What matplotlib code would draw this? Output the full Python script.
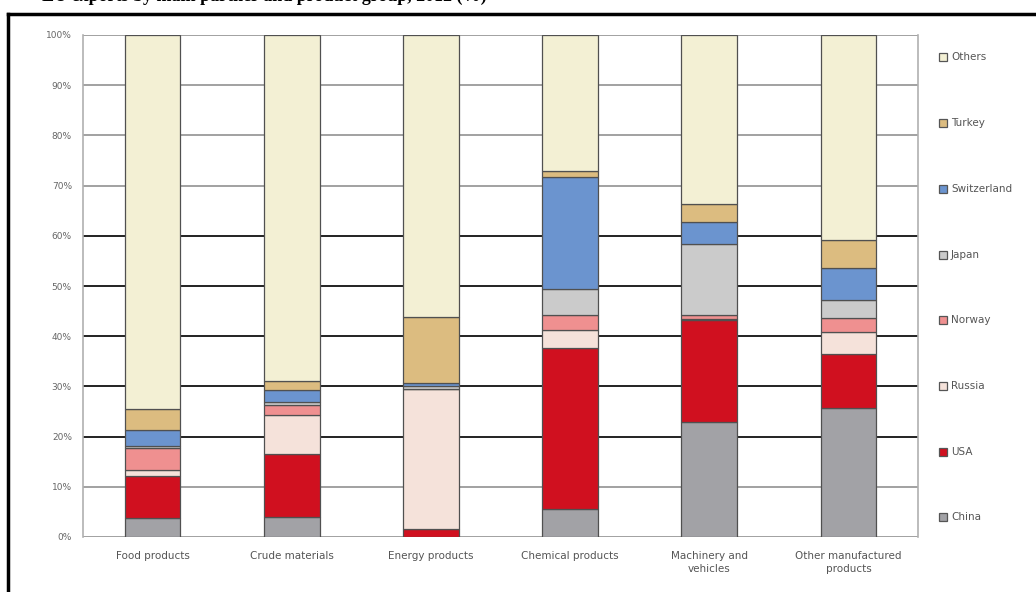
import matplotlib
matplotlib.use("Agg")
import matplotlib.pyplot as plt
from matplotlib.patches import Rectangle
from matplotlib.lines import Line2D
import numpy as np

categories = ["Food products", "Crude materials", "Energy products",
              "Chemical products", "Machinery and\nvehicles",
              "Other manufactured\nproducts"]

partners = ["China", "USA", "Russia", "Norway", "Japan",
            "Switzerland", "Turkey", "Others"]

china       = [3.8, 4.0, 0.0, 5.5, 22.9, 25.6]
usa         = [8.4, 12.5, 1.5, 32.1, 20.3, 10.9]
russia      = [1.1, 7.8, 27.9, 3.6, 0.3, 4.3]
norway      = [4.4, 2.0, 0.0, 3.0, 0.7, 2.8]
japan       = [0.5, 0.5, 0.7, 5.3, 14.1, 3.7]
switzerland = [3.1, 2.5, 0.6, 22.2, 4.5, 6.2]
turkey      = [4.2, 1.7, 13.1, 1.2, 3.6, 5.7]
others      = [74.5, 69.0, 56.2, 27.1, 33.6, 40.8]

series = [china, usa, russia, norway, japan, switzerland, turkey, others]
colors = ["#a2a2a6", "#d0101f", "#f5e2da", "#ef9090", "#cbcbcb",
          "#6b94cf", "#dcbc80", "#f3f0d4"]

yticks = [0, 10, 20, 30, 40, 50, 60, 70, 80, 90, 100]
ytick_labels = [f"{v}%" for v in yticks]

W, H = 1036, 592
fig = plt.figure(figsize=(W / 100, H / 100), dpi=100)
ax = fig.add_axes([83 / W, 1 - 537 / H, (918 - 83) / W, (537 - 35) / H])

x = np.arange(len(categories))
bottom = np.zeros(len(categories))
for vals, col, name in zip(series, colors, partners):
    ax.bar(x, vals, width=0.4, bottom=bottom, color=col,
           edgecolor="#505050", linewidth=0.9, label=name, zorder=3)
    bottom += np.array(vals)

# horizontal gridlines: light in the upper part, dark in the middle
for v in yticks:
    if 20 <= v <= 60:
        c, lw = "#222222", 1.4
    else:
        c, lw = "#9a9a9a", 1.3
    ax.axhline(v, color=c, linewidth=lw, zorder=1)

ax.set_xlim(-0.5, len(categories) - 0.5)
ax.set_ylim(0, 100)
ax.set_yticks(yticks)
ax.set_yticklabels(ytick_labels, fontsize=6.5, color="#666666")
ax.set_xticks(x)
ax.set_xticklabels(categories, fontsize=7.5, color="#555555", linespacing=1.4)
ax.tick_params(length=0, pad=8)
ax.tick_params(axis="x", pad=10)
for side in ["top", "bottom"]:
    ax.spines[side].set_visible(False)
for side in ["left", "right"]:
    ax.spines[side].set_color("#b0b0b0")
    ax.spines[side].set_linewidth(1.2)

# legend column on the right, top entry first
leg_y = [57, 123, 189, 255, 320, 386, 452, 517]
for (name, col), yp in zip(list(zip(partners, colors))[::-1], leg_y):
    fig.patches.append(Rectangle((939 / W, 1 - (yp + 4) / H), 8 / W, 8 / H,
                                 transform=fig.transFigure, facecolor=col,
                                 edgecolor="#555555", linewidth=0.9))
    fig.text(951 / W, 1 - yp / H, name, fontsize=7.5, color="#555555",
             va="center", ha="left")

# frame around the figure block
fig.add_artist(Line2D([8 / W, 1], [1 - 14 / H, 1 - 14 / H],
                      transform=fig.transFigure, color="black", linewidth=2.5))
fig.add_artist(Line2D([8 / W, 8 / W], [0, 1 - 14 / H],
                      transform=fig.transFigure, color="black", linewidth=2.5))

# heading sitting above the frame
fig.text(487 / W, 1 - 1 / H, "EU exports by main partner and product group, 2012 (%)",
         fontsize=13, fontweight="bold", family="Liberation Serif",
         ha="right", va="baseline", color="black")

fig.savefig("out.png", dpi=100)
